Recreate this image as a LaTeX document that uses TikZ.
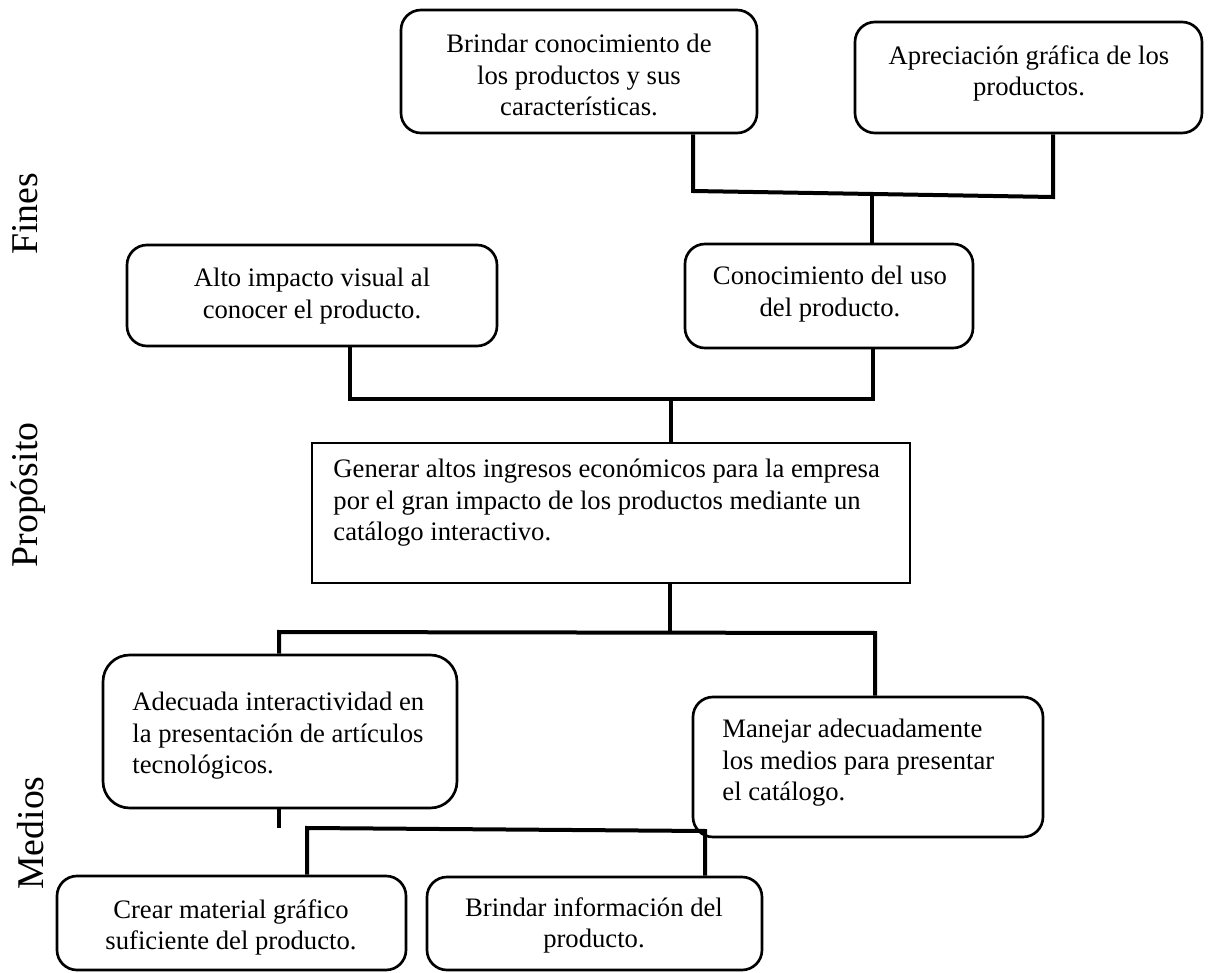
\documentclass[tikz,border=0pt]{standalone}
\usepackage{fontspec}
\setmainfont{Liberation Serif}
\begin{document}
\begin{tikzpicture}[x=0.45pt,y=-0.45pt,
  sz/.style 2 args={minimum width=#1*0.45pt, minimum height=#2*0.45pt},
  rbox/.style={draw, line width=1.2pt, rounded corners=9pt, inner sep=0pt},
  sbox/.style={draw, line width=1.1pt, inner sep=0pt},
  txt/.style={inner sep=0pt, anchor=north, align=center, font=\fontsize{12}{14}\selectfont},
  ltxt/.style={inner sep=0pt, anchor=north west, align=left, font=\fontsize{12}{14}\selectfont},
  conn/.style={line width=1.8pt},
  side/.style={rotate=90, anchor=base, inner sep=0pt, font=\fontsize{17}{20}\selectfont}]
\useasboundingbox (0,0) rectangle (1208,973);

% boxes
\node[rbox, sz={356}{123}] (b1) at (579,71.5) {};
\node[rbox, sz={347}{111}] (b2) at (1028.5,77.5) {};
\node[rbox, sz={370}{101}] (b3) at (312,295.5) {};
\node[rbox, sz={288}{104}] (b4) at (829,296) {};
\node[sbox, sz={598}{140}] (r) at (611,513) {};
\node[rbox, rounded corners=12pt, sz={354}{153}] (b6) at (280,731.5) {};
\node[rbox, sz={350}{140}] (b7) at (868,767) {};
\node[rbox, sz={349}{94}] (b8) at (231.5,923) {};
\node[rbox, sz={335}{93}] (b9) at (594.5,923.5) {};

% texts
\node[txt] (t1) at (579,34) {Brindar conocimiento de\\los productos y sus\\características.};
\node[txt] (t2) at (1029,45) {Apreciación gráfica de los\\productos.};
\node[txt] (t3) at (312,268) {Alto impacto visual al\\conocer el producto.};
\node[txt] (t4) at (830,266) {Conocimiento del uso\\del producto.};
\node[ltxt] (tr) at (333,459) {Generar altos ingresos económicos para la empresa\\por el gran impacto de los productos mediante un\\catálogo interactivo.};
\node[ltxt] (t6) at (132,692) {Adecuada interactividad en\\la presentación de artículos\\tecnológicos.};
\node[ltxt] (t7) at (722,719) {Manejar adecuadamente\\los medios para presentar\\el catálogo.};
\node[txt] (t8) at (231,899) {Crear material gráfico\\suficiente del producto.};
\node[txt] (t9) at (594,897) {Brindar información del\\producto.};

% side labels
\node[side] (fines) at (37,214) {Fines};
\node[side] (prop) at (37,495) {Propósito};
\node[side] (medios) at (44,833) {Medios};

% connectors
\coordinate (j1) at (693,191);
\coordinate (j2) at (1053,197);
\coordinate (j3) at (872,194);
\draw[conn] (b1.south -| j1) -- (j1) -- (j2) -- (b2.south -| j2);
\draw[conn] (j3) -- (b4.north -| j3);

\coordinate (k1) at (350,399);
\coordinate (k2) at (873,399);
\coordinate (k3) at (671,399);
\draw[conn] (b3.south -| k1) -- (k1) -- (k2) -- (b4.south -| k2);
\draw[conn] (k3) -- (r.north -| k3);

\coordinate (m1) at (279,632);
\coordinate (m2) at (875,633);
\coordinate (m3) at (670,632.5);
\draw[conn] (b6.north -| m1) -- (m1) -- (m2) -- (b7.north -| m2);
\draw[conn] (r.south -| m3) -- (m3);

\coordinate (s1) at (279,828);
\draw[conn] (b6.south -| s1) -- (s1);

\coordinate (n1) at (307,828);
\coordinate (n2) at (705,831);
\draw[conn] (b8.north -| n1) -- (n1) -- (n2) -- (b9.north -| n2);
\end{tikzpicture}
\end{document}
